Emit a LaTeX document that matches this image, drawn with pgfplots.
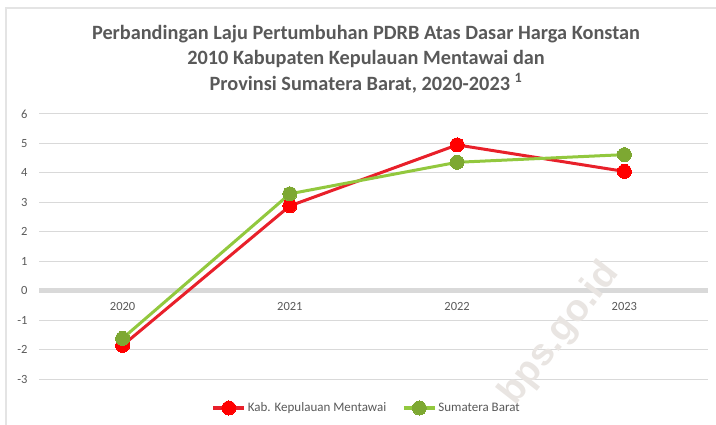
\documentclass[border=0pt]{standalone}
\usepackage{pgfplots}
\pgfplotsset{compat=1.18}
\usepackage{fontspec}
\setmainfont{Carlito}
\newfontfamily\wmfont{Liberation Sans}
\definecolor{txtgray}{HTML}{595959}
\definecolor{gridgray}{HTML}{D9D9D9}
\definecolor{redline}{HTML}{E8202A}
\definecolor{redmark}{HTML}{FF0000}
\definecolor{greenline}{HTML}{92C83E}
\definecolor{greenmark}{HTML}{7DA832}
\definecolor{wmark}{HTML}{E9E5E2}
\begin{document}
\begin{tikzpicture}
\path[use as bounding box] (0,0) rectangle (716bp,425bp);
\draw[gridgray!70, line width=1.2bp] (6bp,0) -- (6bp,417bp) -- (716bp,417bp);
\node[text=txtgray, font=\bfseries\fontsize{20.3bp}{25.5bp}\selectfont, align=center] at (366bp,366bp) {Perbandingan Laju Pertumbuhan PDRB Atas Dasar Harga Konstan\\2010 Kabupaten Kepulauan Mentawai dan\\Provinsi Sumatera Barat, 2020-2023 \textsuperscript{1}};
\begin{axis}[
  at={(39bp,46bp)}, anchor=south west,
  scale only axis, width=669bp, height=265bp,
  xmin=-0.5, xmax=3.5, ymin=-3, ymax=6,
  xtick={0,1,2,3}, xticklabels={2020,2021,2022,2023},
  ytick={-3,-2,...,6},
  axis line style={draw=none},
  major tick length=0pt,
  ymajorgrids, grid style={gridgray, line width=1bp},
  tick label style={text=txtgray, font=\fontsize{12.5bp}{14bp}\selectfont},
  /pgf/number format/assume math mode=true,
  yticklabel style={xshift=-8bp},
  xticklabel style={yshift=80bp},
  legend columns=2,
  legend style={at={(axis description cs:0.49,0)}, anchor=center, yshift=-29bp, draw=none, fill=none,
    font=\fontsize{13bp}{15bp}\selectfont, text=txtgray,
    /tikz/every even column/.append style={column sep=14bp}},
  legend image code/.code={\draw[#1, mark repeat=2, mark phase=2] plot coordinates {(0bp,0bp) (15.5bp,0bp) (31bp,0bp)};},
  clip=false,
]
\draw[gridgray, line width=5bp] (axis cs:-0.5,0) -- (axis cs:3.5,0);
\addplot[redline, line width=3bp, mark=*, mark size=7bp, mark options={fill=redmark, draw=redmark, line width=0pt}]
  coordinates {(0,-1.86) (1,2.88) (2,4.95) (3,4.05)};
\addlegendentry{Kab. Kepulauan Mentawai}
\addplot[greenline, line width=3bp, mark=*, mark size=7bp, mark options={fill=greenmark, draw=greenmark, line width=0pt}]
  coordinates {(0,-1.62) (1,3.29) (2,4.36) (3,4.62)};
\addlegendentry{Sumatera Barat}
\end{axis}
\node[text=wmark, font=\wmfont\bfseries\fontsize{38bp}{38bp}\selectfont, rotate=52] at (560bp,91bp) {bps.go.id};
\end{tikzpicture}
\end{document}
